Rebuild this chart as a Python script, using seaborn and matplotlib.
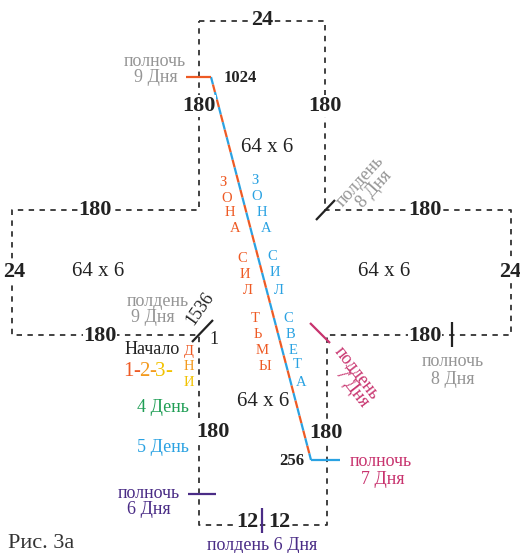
import pandas as pd
import matplotlib.pyplot as plt
import seaborn as sns

sns.set_style("white")
plt.rcParams['font.family'] = ['Liberation Serif', 'DejaVu Serif']

# cross outline (diagram units = pixels of the scheme)
outline_x = [199, 325, 325, 511, 511, 327, 327, 199, 199, 12, 12, 199, 199]
outline_y = [21, 21, 210, 210, 335, 335, 525, 525, 335, 335, 210, 210, 21]

# diagonal 1024 -> 256
diag_x = [211, 311]
diag_y = [77, 460]

# edge labels
edge_labels = ["24", "180", "180", "180", "180", "24", "24", "180", "180",
               "180", "180", "12", "12"]
edge_pos = [(262, 20), (199, 106), (325, 106), (95, 210), (425, 210),
            (14, 272), (510, 272), (100, 336), (425, 336),
            (213, 432), (326, 433), (247, 522), (279, 522)]

areas = ["64 x 6", "64 x 6", "64 x 6", "64 x 6"]
area_pos = [(267, 147), (98, 271), (384, 271), (263, 401)]

dark_zone = list("ЗОНАСИЛТЬМЫ")
dark_pos = [(223, 182), (227, 198), (230, 213), (235, 229), (242, 258),
            (245, 274), (248, 290), (255, 319), (258, 335), (262, 351), (265, 367)]
light_zone = list("ЗОНАСИЛСВЕТА")
light_pos = [(255, 180), (257, 197), (262, 213), (266, 228), (272, 257),
             (275, 273), (279, 290), (288, 319), (290, 335), (293, 350),
             (297, 365), (301, 382)]

c_dash = "#333333"
c_gray = "#959595"
c_orange = "#ee5a24"
c_blue = "#2aa2e2"
c_crimson = "#c8336e"
c_purple = "#4a2c86"
c_green = "#1f9e55"
c_amber = "#f39a1e"
c_yellow = "#f2c200"

fig = plt.figure(figsize=(5.2, 5.53), dpi=100)
ax = fig.add_axes([0, 0, 1, 1])

outline = pd.DataFrame({"x": outline_x, "y": outline_y})
sns.lineplot(data=outline, x="x", y="y", sort=False, estimator=None,
             color=c_dash, lw=1.3, linestyle=(0, (3, 3)), ax=ax)

diag = pd.DataFrame({"x": diag_x, "y": diag_y})
sns.lineplot(data=diag, x="x", y="y", sort=False, estimator=None,
             color=c_blue, lw=1.6, linestyle=(0, (3.5, 3.5)), ax=ax)
sns.lineplot(data=diag, x="x", y="y", sort=False, estimator=None,
             color=c_orange, lw=1.6, linestyle=(3.5, (3.5, 3.5)), ax=ax)

# small marker strokes
ticks = [
    ([186, 211], [77, 77], c_orange),
    ([311, 340], [460, 460], c_blue),
    ([188, 216], [494, 494], c_purple),
    ([262, 262], [508, 533], c_purple),
    ([452, 452], [322, 347], "#222222"),
    ([192, 213], [342, 320], "#222222"),
    ([316, 335], [220, 200], "#222222"),
    ([310, 330], [323, 343], c_crimson),
]
for tx, ty, tc in ticks:
    ax.plot(tx, ty, color=tc, lw=1.6, solid_capstyle="butt")

ax.set_xlim(0, 520)
ax.set_ylim(553, 0)
ax.axis("off")

box = dict(fc="white", ec="none", pad=0.5)
for lab, (x, y) in zip(edge_labels, edge_pos):
    ax.text(x, y, lab, fontsize=16, fontweight="bold", color="#222222",
            ha="center", va="center", bbox=box)

for lab, (x, y) in zip(areas, area_pos):
    ax.text(x, y, lab, fontsize=15, color="#222222", ha="center", va="center")

for lab, (x, y) in zip(dark_zone, dark_pos):
    ax.text(x, y, lab, fontsize=10.5, color=c_orange, ha="center", va="center")
for lab, (x, y) in zip(light_zone, light_pos):
    ax.text(x, y, lab, fontsize=10.5, color=c_blue, ha="center", va="center")

def note(x, y, s, c, size=13, **kw):
    ax.text(x, y, s, fontsize=size, color=c, ha="center", va="center", **kw)

note(240, 78, "1024", "#222222", 12, fontweight="bold")
note(292, 461, "256", "#222222", 12, fontweight="bold")
note(214, 340, "1", "#222222", 13)
note(200, 309, "1536", "#222222", 13, rotation=55)

note(155, 61, "полночь", c_gray)
note(156, 77, "9 Дня", c_gray)
note(158, 302, "полдень", c_gray)
note(153, 318, "9 Дня", c_gray)
note(453, 362, "полночь", c_gray)
note(453, 380, "8 Дня", c_gray)
note(360, 181, "полдень", c_gray, rotation=48)
note(374, 189, "8 Дня", c_gray, rotation=48)
note(357, 373, "полдень", c_crimson, rotation=-52)
note(352, 388, "7 Дня", c_crimson, rotation=-52)
note(381, 462, "полночь", c_crimson)
note(383, 480, "7 Дня", c_crimson)
note(149, 493, "полночь", c_purple)
note(149, 510, "6 Дня", c_purple)
note(262, 545, "полдень 6 Дня", c_purple)

note(152, 349, "Начало", "#222222")
note(189, 352, "Д", c_orange, 10.5)
note(189, 367, "Н", c_amber, 10.5)
note(189, 382, "И", c_yellow, 10.5)

seq = [("1", c_orange), ("-", c_orange), ("2", c_amber), ("-", c_amber),
       ("3", c_yellow), ("-", c_yellow)]
sx = 123
for ch, cc in seq:
    ax.text(sx, 371, ch, fontsize=15, color=cc, ha="left", va="center")
    sx += 10.5 if ch != "-" else 5.5

note(163, 408, "4 День", c_green)
note(163, 448, "5 День", c_blue)

ax.text(8, 543, "Рис. 3а", fontsize=16, color="#333333", ha="left", va="center")

fig.savefig("out.png", dpi=100)
